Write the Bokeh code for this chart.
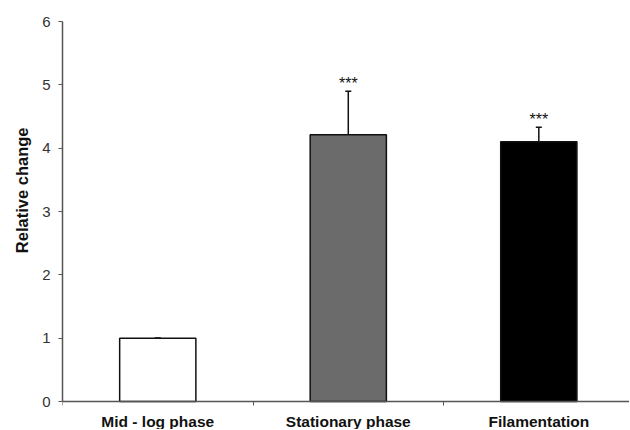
from bokeh.plotting import figure
from bokeh.models import ColumnDataSource, Range1d, FixedTicker, Whisker, Title
from bokeh.core.properties import value
from bokeh.embed import file_html
from bokeh.resources import INLINE

categories = ["Mid - log phase", "Stationary phase", "Filamentation"]
values = [1.0, 4.21, 4.10]
errors = [0.0, 0.69, 0.23]
significance = ["", "***", "***"]
bar_colors = ["#ffffff", "#6b6b6b", "#000000"]
y_ticks = [0, 1, 2, 3, 4, 5, 6]
y_title = "Relative change"

xpos = [i + 0.5 for i in range(len(categories))]
src = ColumnDataSource(dict(
    x=xpos, top=values,
    upper=[v + e for v, e in zip(values, errors)],
    lower=[v - e for v, e in zip(values, errors)],
    sig=significance, color=bar_colors,
    cat=categories, base=[0] * len(categories),
))

FONT = "Liberation Sans"

p = figure(width=629, height=429, output_backend="svg", toolbar_location=None,
           x_axis_location="above",
           x_range=Range1d(0, 2.976), y_range=Range1d(-0.442, 6),
           min_border_left=62, min_border_right=0, min_border_top=21,
           min_border_bottom=0)
p.outline_line_color = None
p.xgrid.grid_line_color = None
p.ygrid.grid_line_color = None
p.background_fill_color = "white"
p.border_fill_color = "white"

p.vbar(x="x", top="top", width=0.4, bottom=0, source=src,
       fill_color="color", line_color="#111111", line_width=1.5)

w = Whisker(base="x", upper="upper", lower="lower", source=src,
            line_color="#111111", line_width=1.5)
w.upper_head.size = 6
w.lower_head.size = 6
w.upper_head.line_color = "#111111"
w.lower_head.line_color = "#111111"
w.upper_head.line_width = 1.5
w.lower_head.line_width = 1.5
p.add_layout(w)

p.text(x="x", y="upper", text="sig", source=src, text_align="center",
       text_baseline="middle", y_offset=-8, text_font_size="16px",
       text_font=value(FONT), text_color="#111111")

# category labels below the zero line
p.text(x="x", y="base", text="cat", source=src, text_align="center",
       text_baseline="middle", y_offset=20, text_font=value(FONT),
       text_font_style="bold", text_font_size="15.5px", text_color="#111111")

# y axis title as a side title so it can sit where the reference has it
t = Title(text=y_title, align="right", offset=106, standoff=18,
          text_font=FONT, text_font_style="bold", text_font_size="16.5px",
          text_color="#111111")
p.add_layout(t, "left")

# y axis
p.yaxis.ticker = FixedTicker(ticks=y_ticks)
p.yaxis.bounds = (0, 6)
p.yaxis.major_label_text_font = FONT
p.yaxis.major_label_text_font_size = "15px"
p.yaxis.major_label_text_color = "#333333"
p.yaxis.major_label_standoff = 8
p.yaxis.major_tick_out = 4
p.yaxis.major_tick_in = 0
p.yaxis.minor_tick_line_color = None
p.yaxis.axis_line_color = "#555555"
p.yaxis.major_tick_line_color = "#555555"
p.yaxis.axis_line_width = 1.5

# x axis drawn at y = 0 (boundary ticks pointing down)
p.xaxis.fixed_location = 0
p.xaxis.ticker = FixedTicker(ticks=[0, 1, 2, 3])
p.xaxis.major_label_overrides = {0: "", 1: "", 2: "", 3: ""}
p.xaxis.major_label_text_font_size = "1px"
p.xaxis.major_label_standoff = 0
p.xaxis.major_tick_out = 0
p.xaxis.major_tick_in = 4
p.xaxis.minor_tick_line_color = None
p.xaxis.major_tick_line_color = "#555555"
p.xaxis.axis_line_color = "#555555"
p.xaxis.axis_line_width = 1.5

open("out.html", "w").write(file_html(p, INLINE))
